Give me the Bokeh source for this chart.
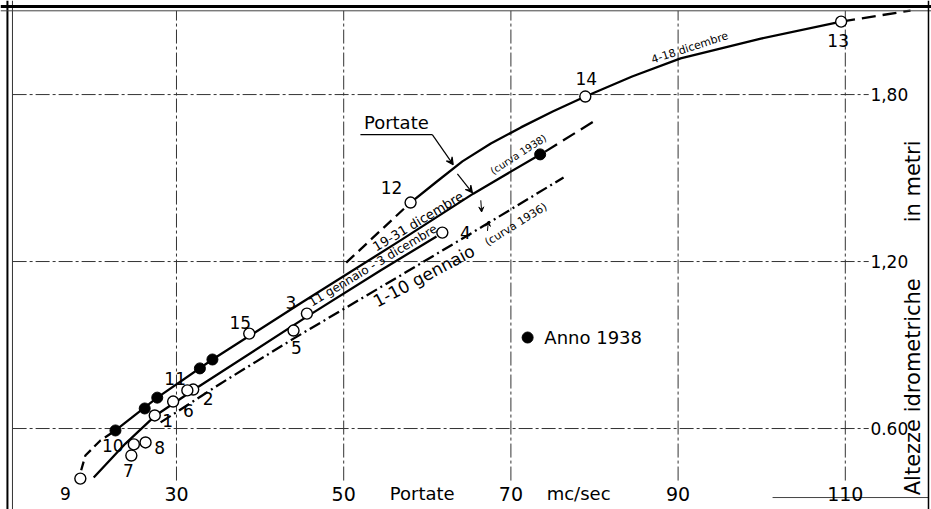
import math
from bokeh.plotting import figure
from bokeh.models import ColumnDataSource, Span, Arrow, VeeHead
from bokeh.core.properties import value
from bokeh.embed import file_html
from bokeh.resources import INLINE

# ---------------- data (Portate mc/sec  vs  Altezze idrometriche m) ----------------
point_ids = ["1", "2", "3", "4", "5", "6", "7", "8", "9", "10", "11", "12", "13", "14", "15"]
point_q = [27.4, 32.0, 45.6, 61.8, 44.0, 31.3, 24.6, 26.3, 18.5, 24.9, 29.6, 58.0, 109.5, 78.9, 38.7]
point_h = [0.647, 0.740, 1.013, 1.304, 0.952, 0.737, 0.503, 0.550, 0.420, 0.543, 0.697, 1.412, 2.062, 1.793, 0.941]

anno1938_q = [22.7, 26.2, 27.7, 32.8, 34.3, 73.5]
anno1938_h = [0.593, 0.672, 0.711, 0.816, 0.848, 1.585]

# curve "4-18 dicembre"
c418_q = [58.0, 61.0, 64.2, 67.6, 71.2, 75.0, 78.9, 84.5, 90.3, 99.9, 109.5]
c418_h = [1.412, 1.484, 1.560, 1.624, 1.682, 1.739, 1.793, 1.865, 1.930, 2.001, 2.062]
c418_low_q = [50.3, 58.0]
c418_low_h = [1.196, 1.412]
c418_high_q = [109.5, 117.8]
c418_high_h = [2.062, 2.102]

# curve "19-31 dicembre (curva 1938)"
c1938_q = [22.7, 27.7, 34.3, 44.8, 56.8, 65.5, 73.5]
c1938_h = [0.593, 0.711, 0.848, 1.049, 1.276, 1.444, 1.585]
c1938_low_q = [18.6, 19.1, 20.9, 22.7]
c1938_low_h = [0.450, 0.503, 0.557, 0.593]
c1938_high_q = [74.1, 80.1]
c1938_high_h = [1.595, 1.707]

# curve "11 gennaio - 3 dicembre"
cgen_q = [20.1, 23.9, 27.5, 32.3, 45.6, 54.4, 61.1]
cgen_h = [0.424, 0.546, 0.647, 0.744, 1.002, 1.168, 1.290]

# curve "1-10 gennaio (curva 1936)"
c1936_q = [28.1, 35.3, 44.0, 56.8, 66.4, 76.3]
c1936_h = [0.622, 0.762, 0.923, 1.150, 1.322, 1.502]

x_ticks = [30, 50, 70, 90, 110]
x_tick_labels = ["30", "50", "70", "90", "110"]
y_ticks = [0.60, 1.20, 1.80]
y_tick_labels = ["0.60", "1,20", "1,80"]

# ---------------- layout ----------------
FONT = value("DejaVu Sans")
X0, X1 = 8.95, 120.31
Y0, Y1 = 0.309, 2.138

p = figure(width=931, height=509, x_range=(X0, X1), y_range=(Y0, Y1),
           x_axis_type=None, y_axis_type=None, output_backend="svg",
           toolbar_location=None, min_border=0)
p.grid.visible = False
p.outline_line_color = None
p.background_fill_color = "white"
p.border_fill_color = "white"

# frame lines (hand drawn border)
p.add_layout(Span(location=9.78, dimension="height", line_color="black", line_width=2))
p.add_layout(Span(location=10.38, dimension="height", line_color="#333333", line_width=1))
p.add_layout(Span(location=2.116, dimension="width", line_color="black", line_width=3))
p.add_layout(Span(location=2.101, dimension="width", line_color="#444444", line_width=1))
p.add_layout(Span(location=119.95, dimension="height", line_color="black", line_width=1.5))
p.segment(x0=[101.3], y0=[0.352], x1=[119.95], y1=[0.352], line_color="#444444", line_width=1)

# grid lines
grid_top = 2.101
grid_bottom = 0.413
p.segment(x0=x_ticks, y0=[grid_bottom] * len(x_ticks), x1=x_ticks, y1=[grid_top] * len(x_ticks),
          line_color="#333333", line_width=1, line_dash="14 3 3 3")
p.segment(x0=[10.4] * len(y_ticks), y0=y_ticks, x1=[112.8] * len(y_ticks), y1=y_ticks,
          line_color="#333333", line_width=1, line_dash="14 3 3 3")

# tick labels
p.text(x=x_ticks, y=[0.366] * len(x_ticks), text=x_tick_labels, text_font=FONT,
       text_font_size="19px", text_align="center", text_baseline="middle", text_color="black")
p.text(x=[113.0] * len(y_ticks), y=y_ticks, text=y_tick_labels, text_font=FONT,
       text_font_size="17px", text_align="left", text_baseline="middle", text_color="black")
p.text(x=[59.4, 78.1], y=[0.366, 0.366], text=["Portate", "mc/sec"], text_font=FONT,
       text_font_size="18px", text_align="center", text_baseline="middle", text_color="black")
p.text(x=[118.05, 118.05], y=[0.750, 1.50], text=["Altezze idrometriche", "in  metri"],
       angle=math.pi / 2, text_font=FONT, text_font_size="21px",
       text_align="center", text_baseline="middle", text_color="black")

# curves
LW = 2.3
p.line(c418_q, c418_h, line_color="black", line_width=LW)
p.line(c418_low_q, c418_low_h, line_color="black", line_width=LW, line_dash="11 6")
p.line(c418_high_q, c418_high_h, line_color="black", line_width=LW, line_dash="14 7")
p.line(c1938_q, c1938_h, line_color="black", line_width=LW)
p.line(c1938_low_q, c1938_low_h, line_color="black", line_width=LW, line_dash="9 5")
p.line(c1938_high_q, c1938_high_h, line_color="black", line_width=LW, line_dash="14 7")
p.line(cgen_q, cgen_h, line_color="black", line_width=LW)
p.line(c1936_q, c1936_h, line_color="black", line_width=LW, line_dash="12 4 2 4")

# points
p.scatter(point_q, point_h, marker="circle", size=11, fill_color="white",
          line_color="black", line_width=1.4)
p.scatter(anno1938_q, anno1938_h, marker="circle", size=11, fill_color="black",
          line_color="black")

# point number labels (screen offsets)
off_x = [13, 15, -16, 23, 3, 1, -3, 14, -15, -21, 2, -19, -3, 1, -9]
off_y = [5, 9, -11, 0, 17, 20, 15, 5, 15, 1, -23, -15, 19, -18, -11]
lab = ColumnDataSource(dict(x=point_q, y=point_h, t=point_ids, dx=off_x, dy=off_y))
p.text(x="x", y="y", text="t", x_offset="dx", y_offset="dy", source=lab, text_font=FONT,
       text_font_size="17px", text_align="center", text_baseline="middle", text_color="black")

# legend "Anno 1938"
p.scatter([72.0], [0.927], marker="circle", size=11, fill_color="black", line_color="black")
p.text(x=[74.0], y=[0.927], text=["Anno 1938"], text_font=FONT, text_font_size="18px",
       text_align="left", text_baseline="middle", text_color="black")

# "Portate" label with leader
p.text(x=[56.3], y=[1.700], text=["Portate"], text_font=FONT, text_font_size="18px",
       text_align="center", text_baseline="middle", text_color="black")
p.line([52.0, 60.6], [1.656, 1.656], line_color="black", line_width=1.2)
p.add_layout(Arrow(end=VeeHead(size=7, line_width=1.2, fill_color="black"), x_start=60.6, y_start=1.656,
                   x_end=63.1, y_end=1.548, line_width=1.2))
p.add_layout(Arrow(end=VeeHead(size=7, line_width=1.2, fill_color="black"), x_start=63.6, y_start=1.515,
                   x_end=65.4, y_end=1.447, line_width=1.2))
p.add_layout(Arrow(end=VeeHead(size=5, line_width=1.0, fill_color="black"), x_start=66.4, y_start=1.42,
                   x_end=66.5, y_end=1.378, line_width=1.0))
p.add_layout(Arrow(end=VeeHead(size=5, line_width=1.0, fill_color="black"), x_start=67.2, y_start=1.31,
                   x_end=67.3, y_end=1.345, line_width=1.0))

# curve annotations
ann = [
    ("4-18 dicembre", 91.4, 1.968, 18, "11px"),
    ("19-31 dicembre", 58.9, 1.344, 31, "13px"),
    ("(curva 1938)", 70.9, 1.585, 33, "10px"),
    ("11 gennaio - 3 dicembre", 53.5, 1.186, 31, "12px"),
    ("1-10 gennaio", 59.6, 1.148, 28, "17px"),
    ("(curva 1936)", 70.6, 1.333, 32, "11px"),
]
for t, xx, yy, ang, fs in ann:
    p.text(x=[xx], y=[yy], text=[t], angle=math.radians(ang), text_font=FONT,
           text_font_size=fs, text_align="center", text_baseline="middle", text_color="black")

open("out.html", "w").write(file_html(p, INLINE))
